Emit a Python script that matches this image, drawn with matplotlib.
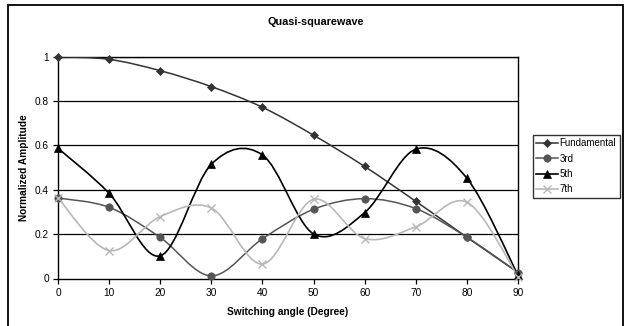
import matplotlib
matplotlib.use("Agg")
import matplotlib.pyplot as plt
from matplotlib.path import Path
from matplotlib.patches import PathPatch, Rectangle
from matplotlib.lines import Line2D

plt.rcParams['font.family'] = ['Liberation Sans', 'DejaVu Sans']

angles = [0, 10, 20, 30, 40, 50, 60, 70, 80, 90]
fundamental = [1.0, 0.988, 0.937, 0.865, 0.772, 0.646, 0.505, 0.348, 0.186, 0.027]
third = [0.363, 0.321, 0.185, 0.012, 0.179, 0.312, 0.360, 0.315, 0.186, 0.027]
fifth = [0.587, 0.384, 0.102, 0.515, 0.557, 0.201, 0.297, 0.583, 0.452, 0.015]
seventh = [0.363, 0.126, 0.279, 0.318, 0.065, 0.357, 0.180, 0.233, 0.344, 0.009]

series_names = ["Fundamental", "3rd", "5th", "7th"]
xticks = [0, 10, 20, 30, 40, 50, 60, 70, 80, 90]
yticks = [0, 0.2, 0.4, 0.6, 0.8, 1.0]
ytick_labels = ["0", "0.2", "0.4", "0.6", "0.8", "1"]

W, H = 627, 326
fig = plt.figure(figsize=(W / 100, H / 100), dpi=100)

# outer chart border
fig.patches.append(Rectangle((7.5 / W, -0.01), (623 - 7.5) / W, (326 - 5) / H + 0.01,
                             transform=fig.transFigure, fill=False,
                             edgecolor='black', linewidth=1.3))

ax = fig.add_axes([58 / W, 1 - 278.5 / H, (518 - 58) / W, (278.5 - 56.7) / H])
ax.set_xlim(0, 90)
ax.set_ylim(0, 1)


def smooth_path(xs, ys):
    pts = list(zip(xs, ys))
    n = len(pts)
    verts = [pts[0]]
    codes = [Path.MOVETO]
    for i in range(n - 1):
        p0 = pts[i - 1] if i > 0 else pts[i]
        p1 = pts[i]
        p2 = pts[i + 1]
        p3 = pts[i + 2] if i + 2 < n else pts[i + 1]
        c1 = (p1[0] + (p2[0] - p0[0]) / 6, p1[1] + (p2[1] - p0[1]) / 6)
        c2 = (p2[0] - (p3[0] - p1[0]) / 6, p2[1] - (p3[1] - p1[1]) / 6)
        verts += [c1, c2, p2]
        codes += [Path.CURVE4] * 3
    return Path(verts, codes)


styles = [
    (fundamental, '#333333', 'D', 4.3, 1.1),
    (third, '#555555', 'o', 5.3, 1.1),
    (fifth, '#000000', '^', 5.8, 1.2),
    (seventh, '#b8b8b8', 'x', 6.0, 1.2),
]

handles = []
for (ys, col, mk, ms, lw), name in zip(styles, series_names):
    ax.add_patch(PathPatch(smooth_path(angles, ys), facecolor='none',
                           edgecolor=col, linewidth=lw, zorder=3))
    ax.plot(angles, ys, linestyle='none', marker=mk, color=col,
            markersize=ms, markeredgewidth=1.0 if mk == 'x' else 0.5, zorder=4,
            clip_on=False)
    handles.append(Line2D([], [], color=col, marker=mk, markersize=ms,
                          linewidth=lw, markeredgewidth=1.0 if mk == 'x' else 0.5))

for y in yticks[1:]:
    ax.axhline(y, color='black', linewidth=0.9, zorder=1)

ax.set_xticks(xticks)
ax.set_xticklabels([str(v) for v in xticks])
ax.set_yticks(yticks)
ax.set_yticklabels(ytick_labels)
ax.tick_params(direction='out', length=3.5, width=0.9, labelsize=7.3, pad=3, colors='black')
for s in ax.spines.values():
    s.set_color('black')
    s.set_linewidth(1.0)

ax.set_xlabel("Switching angle (Degree)", fontsize=7.3, fontweight='bold', labelpad=7)
ax.set_ylabel("Normalized Amplitude", fontsize=7.3, fontweight='bold', labelpad=4)

fig.text(316 / W, 1 - 22 / H, "Quasi-squarewave", ha='center', va='center',
         fontsize=7.8, fontweight='bold')

leg = fig.legend(handles, series_names, loc='upper left',
                 bbox_to_anchor=(533 / W, 1 - 135 / H), bbox_transform=fig.transFigure,
                 fontsize=7.0, frameon=True, fancybox=False, handlelength=2.2,
                 handletextpad=0.2, borderpad=0.35, labelspacing=0.55,
                 borderaxespad=0)
leg.get_frame().set_edgecolor('black')
leg.get_frame().set_linewidth(1.0)

fig.savefig("out.png", dpi=100)
